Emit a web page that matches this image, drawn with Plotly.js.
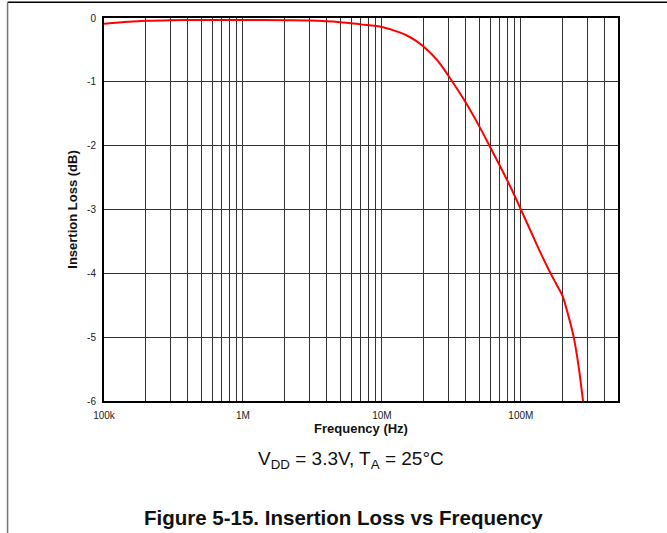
<!DOCTYPE html>
<html>
<head>
<meta charset="utf-8">
<script src="https://cdn.plot.ly/plotly-3.0.1.min.js"></script>
<style>
html,body{margin:0;padding:0;background:#fff;}
#chart{width:667px;height:533px;}
</style>
</head>
<body>
<div id="chart"></div>
<script>
// Frequency (Hz) and insertion loss (dB)
const freqHz = [1e5, 1.5e5, 2e5, 3e5, 5e5, 1e6, 2e6, 3e6, 5e6, 7e6, 1e7, 1.2e7, 1.5e7, 1.75e7, 2e7, 2.5e7, 3e7, 3.5e7, 4e7, 5e7, 6e7, 7e7, 8e7, 9e7, 1e8, 1.2e8, 1.4e8, 1.6e8, 1.8e8, 2e8, 2.2e8, 2.4e8, 2.6e8, 2.8e8];
const lossDb = [-0.09, -0.06, -0.045, -0.035, -0.03, -0.03, -0.035, -0.04, -0.065, -0.10, -0.14, -0.19, -0.27, -0.355, -0.45, -0.66, -0.90, -1.12, -1.32, -1.69, -2.02, -2.30, -2.55, -2.78, -3.0, -3.38, -3.70, -3.96, -4.17, -4.36, -4.67, -5.0, -5.45, -6.0];

// Axis ticks
const xTickVals = [1e5, 1e6, 1e7, 1e8];
const xTickLabels = ['100k', '1M', '10M', '100M'];
const yTickVals = [0, -1, -2, -3, -4, -5, -6];
const yTickLabels = ['0', '-1', '-2', '-3', '-4', '-5', '-6'];
const minorMultipliers = [2, 3, 4, 5, 6, 7, 8, 9];
const decades = [1e5, 1e6, 1e7, 1e8];
const xMax = 5e8;

const xMinorVals = [];
decades.forEach(d => minorMultipliers.forEach(m => { if (d * m <= xMax) xMinorVals.push(d * m); }));

const FONT = 'Arial, "Liberation Sans", sans-serif';
const GRID = '#333333';

const trace = {
  x: freqHz, y: lossDb, type: 'scatter', mode: 'lines',
  line: {color: '#ff0000', width: 2, shape: 'spline', smoothing: 0.8},
  hoverinfo: 'skip'
};

const layout = {
  width: 667, height: 533,
  margin: {l: 104, r: 49, t: 18, b: 132, pad: 0},
  paper_bgcolor: '#ffffff', plot_bgcolor: '#ffffff',
  showlegend: false,
  font: {family: FONT, color: '#222222', size: 10},
  xaxis: {
    type: 'log', range: [5, Math.log10(xMax)],
    tickmode: 'array', tickvals: xTickVals, ticktext: xTickLabels,
    ticks: '', ticklabelstandoff: 4, showgrid: true, gridcolor: GRID, gridwidth: 1,
    minor: {tickmode: 'array', tickvals: xMinorVals, showgrid: true, gridcolor: GRID, gridwidth: 1, ticks: ''},
    showline: true, mirror: true, linecolor: '#000000', linewidth: 2,
    zeroline: false, tickfont: {size: 10, family: FONT, color: '#222222'},
    title: {text: '<b>Frequency (Hz)</b>', font: {size: 13, family: FONT, color: '#111111'}, standoff: 3}
  },
  yaxis: {
    range: [-6, 0],
    tickmode: 'array', tickvals: yTickVals, ticktext: yTickLabels,
    ticks: '', ticklabelstandoff: 4, showgrid: true, gridcolor: GRID, gridwidth: 1,
    showline: true, mirror: true, linecolor: '#000000', linewidth: 2,
    zeroline: false, tickfont: {size: 10, family: FONT, color: '#222222'},
    title: {text: '<b>Insertion Loss (dB)</b>', font: {size: 13, family: FONT, color: '#111111'}, standoff: 7}
  },
  annotations: [
    {xref: 'paper', yref: 'paper', x: 0.2955, y: -0.1548, xanchor: 'left', yanchor: 'middle',
     text: 'V<sub>DD</sub> = 3.3V, T<sub>A</sub> = 25°C', showarrow: false,
     font: {size: 19, family: FONT, color: '#111111'}},
    {xref: 'paper', yref: 'paper', x: 0.4659, y: -0.3029, xanchor: 'center', yanchor: 'middle',
     text: '<b>Figure 5-15. Insertion Loss vs Frequency</b>', showarrow: false,
     font: {size: 20.5, family: FONT, color: '#111111'}}
  ],
  shapes: [
    {type: 'line', xref: 'paper', yref: 'paper', x0: -0.1876, x1: 1.0966, y0: 1.041, y1: 1.041,
     line: {color: '#000000', width: 1.5}},
    {type: 'line', xref: 'paper', yref: 'paper', x0: -0.1876, x1: -0.1876, y0: 1.041, y1: -0.3454,
     line: {color: '#777777', width: 1.5}}
  ]
};

Plotly.newPlot('chart', [trace], layout, {staticPlot: true, displayModeBar: false});
</script>
</body>
</html>
